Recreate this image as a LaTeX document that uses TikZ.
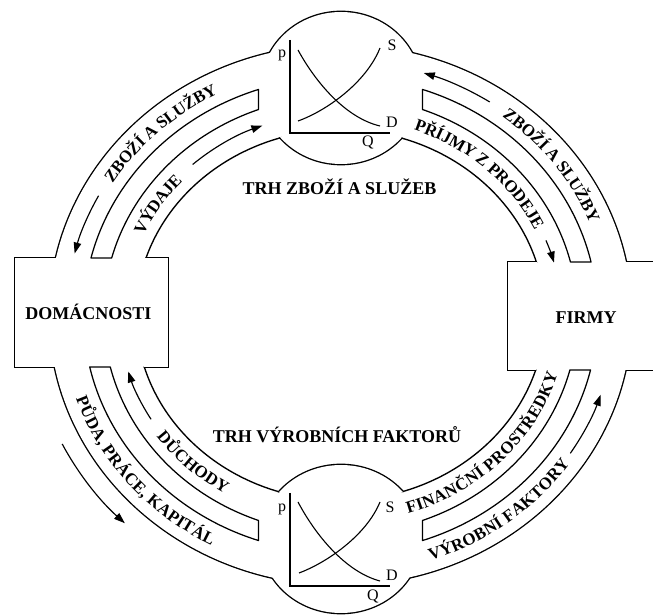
\documentclass[tikz,border=0pt]{standalone}
\usepackage{fontspec}
\setmainfont{Liberation Serif}
\usetikzlibrary{arrows.meta,decorations.text,calc}
\newcommand\ringfont{\fontsize{17}{17}\selectfont\bfseries}
\begin{document}
\begin{tikzpicture}[x=1pt,y=1pt,
  wall/.style={line width=2.7pt},
  strip/.style={line width=1.25pt, line join=round},
  flow/.style={line width=1.15pt,-{Triangle[length=11pt,width=7.5pt]}},
  axis/.style={line width=1.25pt},
  curve/.style={line width=1.1pt},
  boxlabel/.style={font=\fontsize{18}{18}\selectfont\bfseries, anchor=base, inner sep=0pt},
  chartlabel/.style={font=\fontsize{16}{16}\selectfont, inner sep=0pt},
  ringtext/.style={decorate, decoration={text along path, text align=center, raise=-5.6pt, text={|\ringfont|#1}}},
]
\useasboundingbox (0,0) rectangle (653,615);
\clip (0,0) rectangle (653,615);
\coordinate (C) at (340.5,300);
\coordinate (B1) at (341,527);
\coordinate (B2) at (341,76);

% outline of the union (outer ring, bubbles, boxes)
\draw[wall] (C) ellipse [x radius=291, y radius=270];
\draw[wall] (B1) ellipse [x radius=80, y radius=76];
\draw[wall] (B2) ellipse [x radius=80, y radius=74];
\draw[wall] (15,248) rectangle (168,357);
\draw[wall] (508,245) rectangle (700,353);
\fill[white] (C) ellipse [x radius=291, y radius=270];
\fill[white] (B1) ellipse [x radius=80, y radius=76];
\fill[white] (B2) ellipse [x radius=80, y radius=74];
\fill[white] (15,248) rectangle (168,357);
\fill[white] (508,245) rectangle (700,353);

% inner hole outline
\begin{scope}
  \clip (C) ellipse [x radius=205, y radius=186];
  \begin{scope}[even odd rule]
    \clip (-20,-20) rectangle (730,730)
      (B1) ellipse [x radius=80, y radius=76]
      (B2) ellipse [x radius=80, y radius=74]
      (15,248) rectangle (168,357)
      (508,245) rectangle (700,353);
    \draw[wall] (C) ellipse [x radius=205, y radius=186];
  \end{scope}
  \draw[wall] (B1) ellipse [x radius=80, y radius=76];
  \draw[wall] (B2) ellipse [x radius=80, y radius=74];
  \draw[wall] (15,248) rectangle (168,357);
  \draw[wall] (508,245) rectangle (700,353);
  \fill[white] (B1) ellipse [x radius=80, y radius=76];
  \fill[white] (B2) ellipse [x radius=80, y radius=74];
  \fill[white] (15,248) rectangle (168,357);
  \fill[white] (508,245) rectangle (700,353);
\end{scope}

% middle strips
\draw[strip] ($(C)+(166.14:257 and 238)$) arc[start angle=166.14, end angle=108.6, x radius=257, y radius=238]
  -- ($(C)+(110.24:237 and 219)$) arc[start angle=110.24, end angle=164.91, x radius=237, y radius=219] -- cycle;
\draw[strip] ($(C)+(12.87:257 and 238)$) arc[start angle=12.87, end angle=71.4, x radius=257, y radius=238]
  -- ($(C)+(69.76:237 and 219)$) arc[start angle=69.76, end angle=14.0, x radius=237, y radius=219] -- cycle;
\draw[strip] ($(C)+(192.62:257 and 238)$) arc[start angle=192.62, end angle=251.4, x radius=257, y radius=238]
  -- ($(C)+(249.76:237 and 219)$) arc[start angle=249.76, end angle=193.74, x radius=237, y radius=219] -- cycle;
\draw[strip] ($(C)+(346.64:257 and 238)$) arc[start angle=346.64, end angle=288.6, x radius=257, y radius=238]
  -- ($(C)+(290.24:237 and 219)$) arc[start angle=290.24, end angle=345.45, x radius=237, y radius=219] -- cycle;

% ring texts
\path[ringtext={ZBOŽÍ A SLUŽBY}] ($(C)+(163:274 and 254)$) arc[start angle=163, end angle=103, x radius=274, y radius=254];
\path[ringtext={ZBOŽÍ A SLUŽBY}] ($(C)+(67:274 and 254)$) arc[start angle=67, end angle=7, x radius=274, y radius=254];
\path[ringtext={PŘÍJMY Z PRODEJE}] ($(C)+(80:221 and 202.5)$) arc[start angle=80, end angle=15, x radius=221, y radius=202.5];
\path[ringtext={VÝDAJE}] ($(C)+(166.75:221 and 202.5)$) arc[start angle=166.75, end angle=126.75, x radius=221, y radius=202.5];
\path[ringtext={PŮDA, PRÁCE, KAPITÁL}] ($(C)+(190.4:274 and 254)$) arc[start angle=190.4, end angle=250.4, x radius=274, y radius=254];
\path[ringtext={DŮCHODY}] ($(C)+(196.9:221 and 202.5)$) arc[start angle=196.9, end angle=256.9, x radius=221, y radius=202.5];
\path[ringtext={FINANČNÍ PROSTŘEDKY}] ($(C)+(280.7:221 and 202.5)$) arc[start angle=280.7, end angle=350.7, x radius=221, y radius=202.5];
\path[ringtext={VÝROBNÍ FAKTORY}] ($(C)+(277.3:274 and 254)$) arc[start angle=277.3, end angle=337.3, x radius=274, y radius=254];

% flow arrows
\draw[flow] ($(C)+(152:274 and 254)$) arc[start angle=152, end angle=166, x radius=274, y radius=254];
\draw[flow] ($(C)+(57:274 and 254)$) arc[start angle=57, end angle=72.3, x radius=274, y radius=254];
\draw[flow] ($(C)+(21.6:221 and 202.5)$) arc[start angle=21.6, end angle=15, x radius=221, y radius=202.5];
\draw[flow] ($(C)+(132:221 and 202.5)$) arc[start angle=132, end angle=110.7, x radius=221, y radius=202.5];
\draw[flow] ($(C)+(206.5:311 and 289)$) arc[start angle=206.5, end angle=226.1, x radius=311, y radius=289];
\draw[flow] ($(C)+(211:221 and 202.5)$) arc[start angle=211, end angle=196.2, x radius=221, y radius=202.5];
\draw[flow] ($(C)+(327:274 and 254)$) arc[start angle=327, end angle=341.7, x radius=274, y radius=254];

% box and market labels
\node[boxlabel] (dom) at (88.5,295) {DOMÁCNOSTI};
\node[boxlabel] (firmy) at (586,291) {FIRMY};
\node[boxlabel] (trhzbozi) at (339.5,420) {TRH ZBOŽÍ A SLUŽEB};
\node[boxlabel] (trhfaktoru) at (337,172) {TRH VÝROBNÍCH FAKTORŮ};

% supply-demand charts
\begin{scope}[shift={(B1)}]
  \draw[axis] (-51,48) -- (-51,-45) -- (49,-45);
  \draw[curve] (-43,-33) .. controls (-15,-23) and (25,5) .. (39,40);
  \draw[curve] (-43,38) .. controls (-25,5) and (5,-30) .. (39,-38);
  \node[chartlabel, anchor=base] (p1) at (-59,30) {p};
  \node[chartlabel] (s1) at (51,43) {S};
  \node[chartlabel] (d1) at (51,-34) {D};
  \node[chartlabel] (q1) at (27,-55) {Q};
\end{scope}
\begin{scope}[shift={(B2)}]
  \draw[axis] (-51,46) -- (-51,-47) -- (49,-47);
  \draw[curve] (-42,-34) .. controls (-15,-24) and (25,3) .. (39,37);
  \draw[curve] (-43,37) .. controls (-25,3) and (5,-33) .. (39,-42);
  \node[chartlabel, anchor=base] (p2) at (-59,27) {p};
  \node[chartlabel] (s2) at (49,32) {S};
  \node[chartlabel] (d2) at (51,-36) {D};
  \node[chartlabel] (q2) at (32,-58) {Q};
\end{scope}
\end{tikzpicture}
\end{document}
